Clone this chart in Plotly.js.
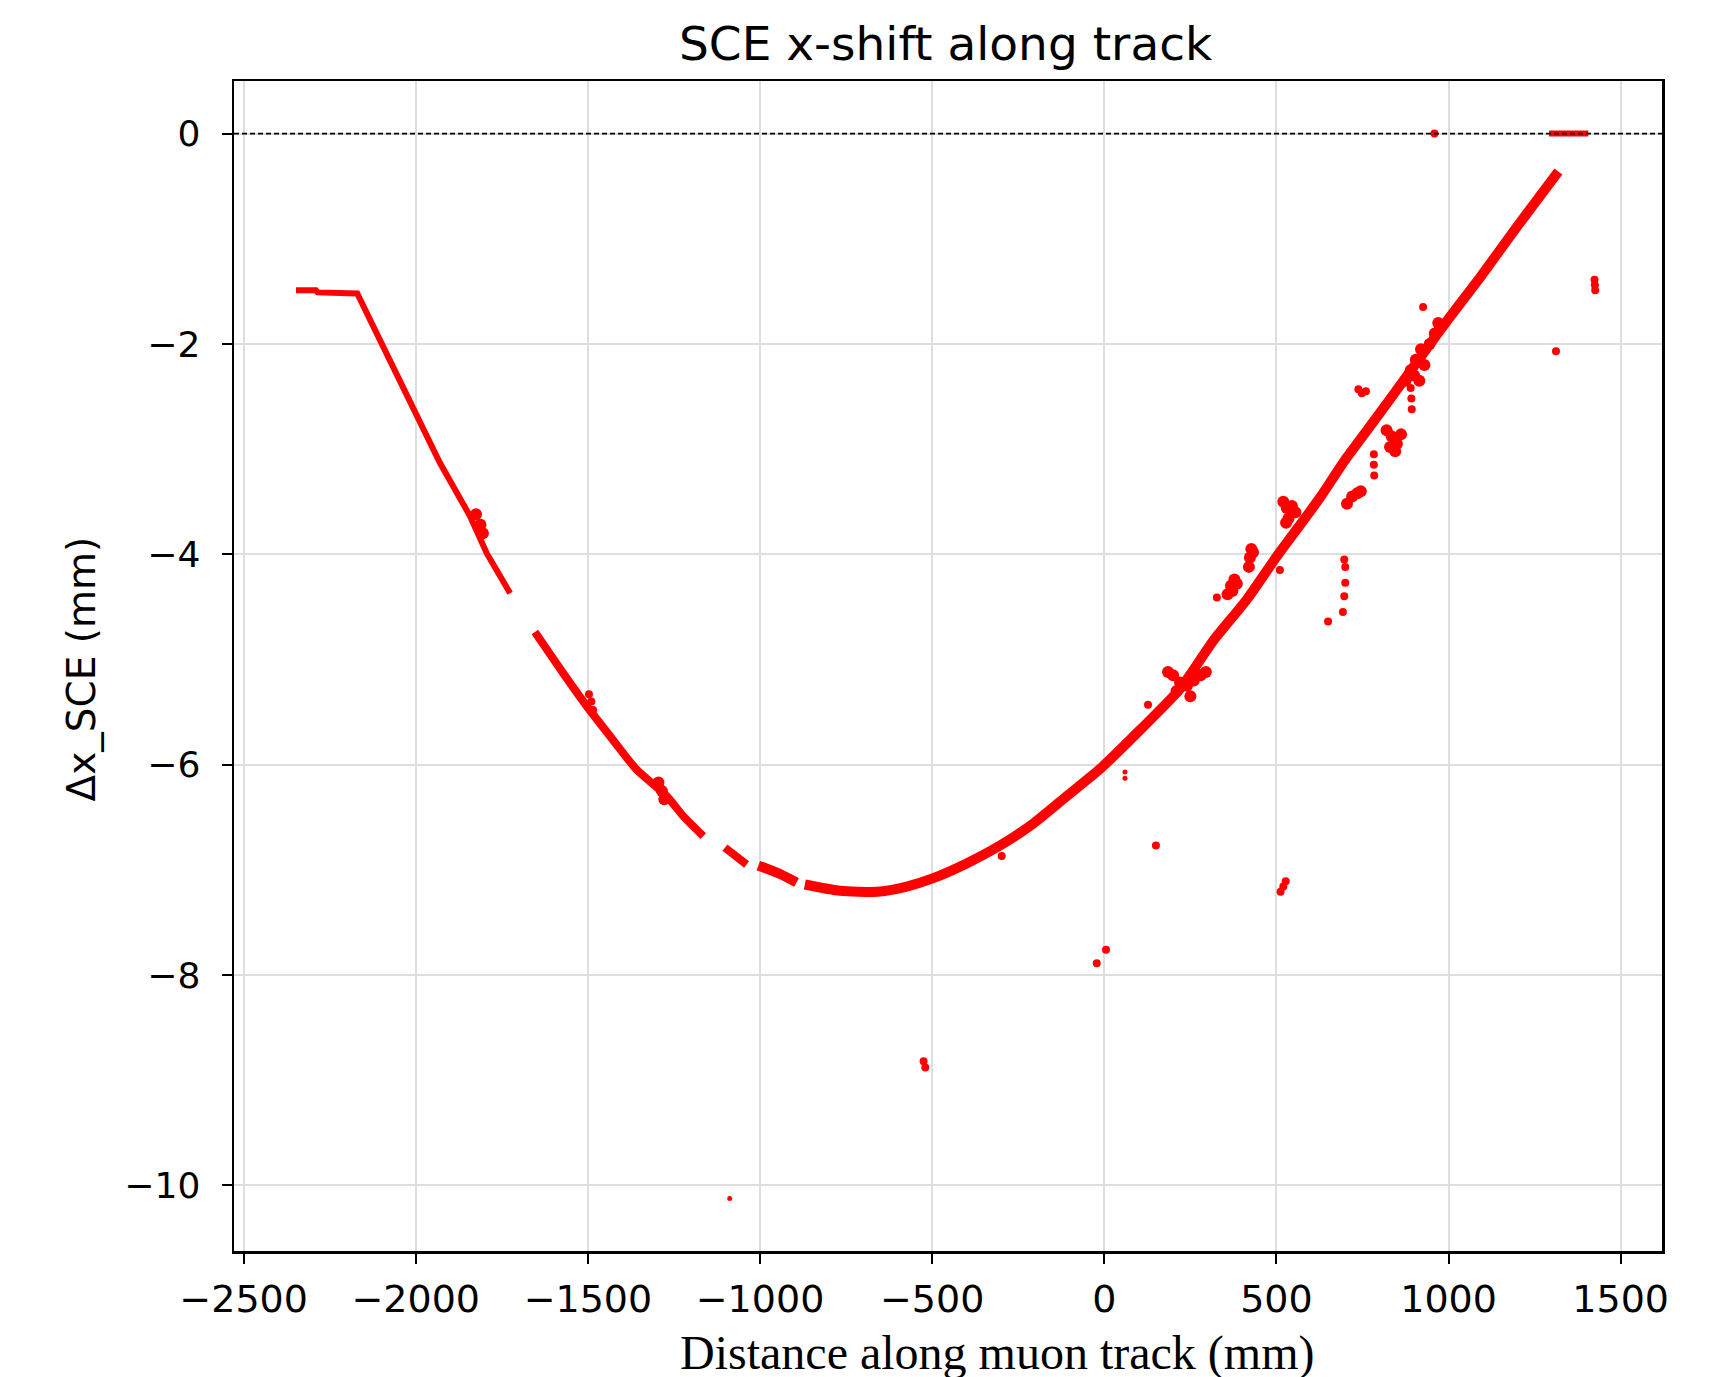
<!DOCTYPE html>
<html>
<head>
<meta charset="utf-8">
<script src="https://cdn.plot.ly/plotly-3.0.1.min.js"></script>
<style>
  html, body { margin: 0; padding: 0; background: #ffffff; }
  #chart { width: 1716px; height: 1377px; }
</style>
</head>
<body>
<div id="chart"></div>
<script>
// Main SCE x-shift band along the muon track (mm); null marks a gap in the hits
const trackThinX = [-2348, -2290, -2285, -2170, -2094, -2002, -1930, -1842, -1794, -1726];
const trackThinY = [-1.49, -1.49, -1.51, -1.52, -2.03, -2.66, -3.13, -3.64, -3.99, -4.37];

const trackMidX = [-1654, -1572, -1502, -1426, -1358, -1271, -1223, -1165, null, -1102, -1039];
const trackMidY = [-4.74, -5.13, -5.45, -5.77, -6.05, -6.30, -6.49, -6.68, null, -6.79, -6.95];

const trackWideX = [-1005, -942, -894, null, -870, -768, -661, -574, -497, -400, -303, -206, -109, -12, 104, 220, 317, 414, 501, 569, 627, 700, 800, 900, 1000, 1091, 1200, 1319];
const trackWideY = [-6.96, -7.04, -7.12, null, -7.14, -7.20, -7.21, -7.16, -7.08, -6.94, -6.77, -6.56, -6.30, -6.04, -5.67, -5.28, -4.82, -4.43, -4.02, -3.72, -3.46, -3.10, -2.66, -2.21, -1.76, -1.37, -0.88, -0.36];

// Hits clamped at zero shift
const zeroBarX = [1292, 1406];
const zeroBarY = [0, 0];

// Isolated hits away from the band
const hitX = [959, 1424, 1425, 1426, 1312, 926,
  150, 512, 520, 527, -22, 5, -525, -520,
  327, 510, 697, 700, 700, 697, 693, 650,
  783, 783, 784, 890, 892, 893, 738, 748, 760,
  -298, 127, -1497, -1490, -1485];
const hitY = [0, -1.39, -1.44, -1.49, -2.07, -1.65,
  -6.77, -7.21, -7.16, -7.11, -7.89, -7.76, -8.82, -8.88,
  -4.41, -4.15, -4.05, -4.12, -4.27, -4.40, -4.55, -4.64,
  -3.05, -3.15, -3.25, -2.42, -2.52, -2.62, -2.43, -2.47, -2.45,
  -6.87, -5.43, -5.33, -5.40, -5.48];

// Faint single hits
const faintX = [60, 60, -1088];
const faintY = [-6.07, -6.13, -10.125];

// Dense clusters of hits next to the band
const clusterX = [358, 368, 378, 385, 372,
  420, 423, 427, 432,
  520, 530, 545, 535, 528, 555,
  705, 720, 735, 745,
  820, 835, 850, 862, 845, 830,
  875, 890, 905, 920, 900, 930, 945, 960, 970, 915,
  185, 200, 220, 240, 260, 280, 295, 250, 210,
  -1295, -1285, -1278,
  -1825, -1812, -1805];
const clusterY = [-4.38, -4.30, -4.24, -4.28, -4.35,
  -4.12, -4.03, -3.95, -3.98,
  -3.50, -3.56, -3.54, -3.66, -3.70, -3.60,
  -3.52, -3.45, -3.42, -3.40,
  -2.82, -2.88, -2.95, -2.86, -3.02, -2.98,
  -2.35, -2.25, -2.15, -2.05, -2.30, -2.20, -2.00, -1.90, -1.80, -2.35,
  -5.12, -5.15, -5.22, -5.25, -5.20, -5.15, -5.12, -5.35, -5.30,
  -6.17, -6.25, -6.33,
  -3.62, -3.72, -3.80];

// Axis ticks
const xTickVals = [-2500, -2000, -1500, -1000, -500, 0, 500, 1000, 1500];
const xTickText = ['\u22122500', '\u22122000', '\u22121500', '\u22121000', '\u2212500', '0', '500', '1000', '1500'];
const yTickVals = [0, -2, -4, -6, -8, -10];
const yTickText = ['0', '\u22122', '\u22124', '\u22126', '\u22128', '\u221210'];

const red = '#ff0000';
const sans = 'DejaVu Sans, sans-serif';

const traces = [
  { x: trackThinX, y: trackThinY, mode: 'lines', connectgaps: false,
    line: { color: red, width: 6 }, hoverinfo: 'skip' },
  { x: trackMidX, y: trackMidY, mode: 'lines', connectgaps: false,
    line: { color: red, width: 8, shape: 'spline', smoothing: 0.6 }, hoverinfo: 'skip' },
  { x: trackWideX, y: trackWideY, mode: 'lines', connectgaps: false,
    line: { color: red, width: 10, shape: 'spline', smoothing: 0.6 }, hoverinfo: 'skip' },
  { x: zeroBarX, y: zeroBarY, mode: 'lines',
    line: { color: red, width: 6 }, hoverinfo: 'skip' },
  { x: hitX, y: hitY, mode: 'markers',
    marker: { color: red, size: 8, line: { width: 0 } }, hoverinfo: 'skip' },
  { x: faintX, y: faintY, mode: 'markers',
    marker: { color: red, size: 5, line: { width: 0 } }, hoverinfo: 'skip' },
  { x: clusterX, y: clusterY, mode: 'markers',
    marker: { color: red, size: 12, line: { width: 0 } }, hoverinfo: 'skip' }
];

const axisCommon = {
  showline: true, mirror: true, linecolor: '#000000', linewidth: 2.5,
  ticks: 'outside', ticklen: 10, tickwidth: 2, tickcolor: '#000000',
  showgrid: true, gridcolor: '#dedede', gridwidth: 2,
  zeroline: false,
  tickmode: 'array'
};

const layout = {
  width: 1716, height: 1377,
  margin: { l: 234, r: 54, t: 81, b: 126 },
  paper_bgcolor: '#ffffff', plot_bgcolor: '#ffffff',
  showlegend: false,
  xaxis: Object.assign({}, axisCommon, {
    range: [-2528, 1620], tickvals: xTickVals, ticktext: xTickText,
    tickfont: { family: sans, size: 38, color: '#000000' },
    ticklabelstandoff: 3
  }),
  yaxis: Object.assign({}, axisCommon, {
    range: [-10.625, 0.5], tickvals: yTickVals, ticktext: yTickText,
    tickfont: { family: sans, size: 36, color: '#000000' },
    ticklabelstandoff: 14
  }),
  shapes: [
    { type: 'line', xref: 'paper', yref: 'y', x0: 0, x1: 1, y0: 0, y1: 0,
      line: { color: '#000000', width: 1.8, dash: '5px,3px' }, layer: 'above' }
  ],
  annotations: [
    { text: 'SCE x-shift along track', xref: 'paper', yref: 'paper',
      x: 0.4985, y: 1.0318, xanchor: 'center', yanchor: 'middle', showarrow: false,
      font: { family: sans, size: 47, color: '#000000' } },
    { text: 'Distance along muon track (mm)', xref: 'paper', yref: 'paper',
      x: 0.534, y: -0.0875, xanchor: 'center', yanchor: 'middle', showarrow: false,
      font: { family: 'Liberation Serif, Times New Roman, serif', size: 48, color: '#000000' } },
    { text: '\u0394x_SCE (mm)', xref: 'paper', yref: 'paper',
      x: -0.1066, y: 0.4977, xanchor: 'center', yanchor: 'middle', showarrow: false,
      textangle: -90,
      font: { family: sans, size: 39, color: '#000000' } }
  ]
};

Plotly.newPlot('chart', traces, layout, { displayModeBar: false, staticPlot: true });
</script>
</body>
</html>
